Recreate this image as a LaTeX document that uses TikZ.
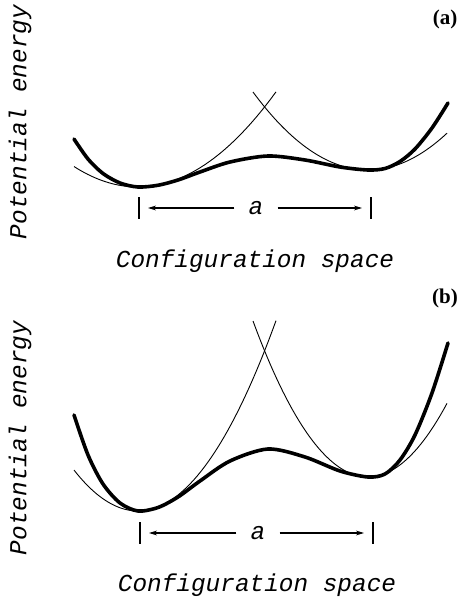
\documentclass[tikz,border=0pt]{standalone}
\usepackage{fontspec}
\setmainfont{Liberation Serif}
\setmonofont{Liberation Mono}
\usetikzlibrary{arrows.meta}

\begin{document}
\begin{tikzpicture}[x=0.5pt, y=0.5pt, >={Stealth[length=4pt,width=2.4pt]},
    thickcurve/.style={line width=1.8pt, line cap=round},
    thincurve/.style={line width=0.45pt},
    tickmark/.style={line width=1pt},
    dimline/.style={line width=0.6pt, shorten >=4.5pt},
    monotext/.style={font=\ttfamily\itshape\fontsize{12.2pt}{14pt}\selectfont, inner sep=0pt},
    panellabel/.style={font=\bfseries\fontsize{10.5pt}{12pt}\selectfont, inner sep=0pt}]
    \useasboundingbox (0,0) rectangle (459,601);

    % ---------- (a) ----------
    % 能量曲线 (势能减半)
    \begin{scope}[shift={(0,414)}, yscale=0.5]
        \draw[thickcurve] plot[smooth] coordinates {(74,96) (88,56) (103,27) (120,8)
            (138,0) (158,3.5) (178,14) (200,30) (230,50) (268,62) (305,54)
            (340,40) (368,34) (385,37) (400,51) (415,76) (432,118) (448,168)};
        % 两个谐振近似
        \draw[thincurve, domain=74:276, samples=60] plot (\x, {0.01*(\x-138)*(\x-138)});
        \draw[thincurve, domain=253:447, samples=60] plot (\x, {34+0.0118*(\x-368)*(\x-368)});
    \end{scope}

    % 刻度与间距 a
    \coordinate (tLa) at (139,393);
    \coordinate (tRa) at (371,393);
    \draw[tickmark] ([yshift=-5.5pt]tLa) -- ([yshift=5.5pt]tLa);
    \draw[tickmark] ([yshift=-5.5pt]tRa) -- ([yshift=5.5pt]tRa);
    \node[monotext, inner xsep=7pt] (distA) at (256,393) {a};
    \draw[dimline, ->] (distA) -- (tLa);
    \draw[dimline, ->] (distA) -- (tRa);

    % 坐标轴标签
    \node[monotext, rotate=90] (peA) at (20,479) {Potential energy};
    \node[monotext] (csA) at (255,340) {Configuration space};
    \node[panellabel] (labA) at (445,582) {(a)};

    % ---------- (b) ----------
    \begin{scope}[shift={(0,90)}]
        \draw[thickcurve] plot[smooth] coordinates {(74,96) (88,56) (103,27) (120,8)
            (138,0) (158,3.5) (178,14) (200,30) (230,50) (268,62) (305,54)
            (340,40) (368,34) (385,37) (400,51) (415,76) (432,118) (448,168)};
        \draw[thincurve, domain=74:276, samples=60] plot (\x, {0.01*(\x-138)*(\x-138)});
        \draw[thincurve, domain=253:447, samples=60] plot (\x, {34+0.0118*(\x-368)*(\x-368)});
    \end{scope}

    \coordinate (tLb) at (140,68);
    \coordinate (tRb) at (373,68);
    \draw[tickmark] ([yshift=-5.5pt]tLb) -- ([yshift=5.5pt]tLb);
    \draw[tickmark] ([yshift=-5.5pt]tRb) -- ([yshift=5.5pt]tRb);
    \node[monotext, inner xsep=7pt] (distB) at (258,68) {a};
    \draw[dimline, ->] (distB) -- (tLb);
    \draw[dimline, ->] (distB) -- (tRb);

    \node[monotext, rotate=90] (peB) at (20,163) {Potential energy};
    \node[monotext] (csB) at (257,16) {Configuration space};
    \node[panellabel] (labB) at (445,303) {(b)};

\end{tikzpicture}
\end{document}
